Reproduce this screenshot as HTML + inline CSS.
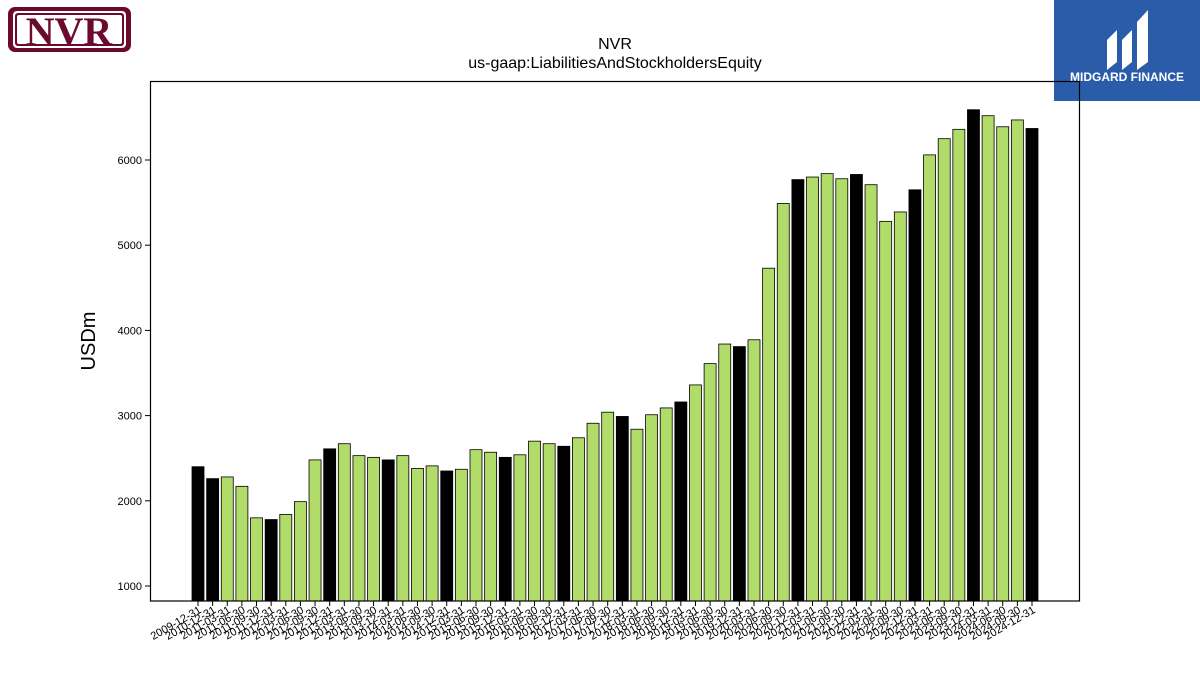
<!DOCTYPE html>
<html><head><meta charset="utf-8"><style>
body{margin:0;background:#fff;font-family:"Liberation Sans","DejaVu Sans",sans-serif}
#wrap{position:relative;width:1200px;height:675px;overflow:hidden}
</style></head><body><div id="wrap">
<svg id="chart" width="1200" height="675" xmlns="http://www.w3.org/2000/svg">
<g>
<rect x="8" y="7" width="123" height="45" rx="7" fill="#6b0a2e"/>
<rect x="13" y="11" width="113" height="37" rx="4" fill="#fff"/>
<rect x="15" y="13" width="109" height="33" rx="3" fill="#6b0a2e"/>
<rect x="17" y="15" width="105" height="29" rx="2" fill="#fff"/>
<text x="69" y="45" text-anchor="middle" font-family="Liberation Serif,serif" font-weight="bold" font-size="40" fill="#6b0a2e">NVR</text>
</g>
<g>
<rect x="1054" y="0" width="146" height="101" fill="#2a5caa"/>
<path d="M1107 70 L1107 40 L1117 30 L1117 62 Z M1122 70 L1122 40 L1132 30 L1132 62 Z M1137 70 L1137 22 L1148 10 L1148 62 Z" fill="#fff"/>
<text x="1127" y="81" text-anchor="middle" font-weight="bold" font-size="12" fill="#fff">MIDGARD FINANCE</text>
</g>
<text x="615" y="49" text-anchor="middle" font-size="16">NVR</text>
<text x="615" y="68" text-anchor="middle" font-size="16">us-gaap:LiabilitiesAndStockholdersEquity</text>
<text transform="translate(95,341) rotate(-90)" text-anchor="middle" font-size="20">USDm</text>
<g id="bars"></g><g id="yt"></g><g id="xt"></g>
<rect x="150.5" y="81.5" width="929" height="519.5" fill="none" stroke="#000" stroke-width="1.2"/>
</svg>
<script>
const categories=["2009-12-31","2010-12-31"];
for(let y=2011;y<=2024;y++){["03-31","06-30","09-30","12-31"].forEach(q=>categories.push(y+"-"+q));}
const values=[2400,2260,2280,2170,1800,1780,1840,1990,2480,2610,2670,2530,2510,2480,2530,2380,2410,2350,2370,2600,2570,2510,2540,2700,2670,2640,2740,2910,3040,2990,2840,3010,3090,3160,3360,3610,3840,3810,3890,4730,5490,5770,5800,5840,5780,5830,5710,5280,5390,5650,6060,6250,6360,6590,6520,6390,6470,6370];
const yTicks=[1000,2000,3000,4000,5000,6000];
const NS="http://www.w3.org/2000/svg";
const y0=824, pxPer=0.0852, yBase=601;
function yS(v){return 586-(v-1000)*pxPer;}
function xS(i){return 198+i*(1032-198)/(categories.length-1);}
const bars=document.getElementById('bars'),yt=document.getElementById('yt'),xt=document.getElementById('xt');
values.forEach((v,i)=>{
 const r=document.createElementNS(NS,'rect');
 
 
 const top=yS(v);
 r.setAttribute('x',xS(i)-6);r.setAttribute('y',top);r.setAttribute('width',12);r.setAttribute('height',yBase-top);
 r.setAttribute('fill',categories[i].endsWith('12-31')?'#000':'#b2dc6a');
 r.setAttribute('stroke','#000');r.setAttribute('stroke-width','0.8');
 bars.appendChild(r);
 const t=document.createElementNS(NS,'line');
 
 
 t.setAttribute('x1',xS(i));t.setAttribute('x2',xS(i));t.setAttribute('y1',601);t.setAttribute('y2',606);t.setAttribute('stroke','#000');
 xt.appendChild(t);
 const l=document.createElementNS(NS,'text');
 
 
 l.setAttribute('transform','translate('+(xS(i)+4)+',612) rotate(-30)');
 l.setAttribute('text-anchor','end');l.setAttribute('font-size','11');
 l.textContent=categories[i];xt.appendChild(l);
});
yTicks.forEach(v=>{
 const t=document.createElementNS(NS,'line');
 
 
 t.setAttribute('x1',145);t.setAttribute('x2',150);t.setAttribute('y1',yS(v));t.setAttribute('y2',yS(v));t.setAttribute('stroke','#000');
 yt.appendChild(t);
 const l=document.createElementNS(NS,'text');
 
 
 l.setAttribute('x',142);l.setAttribute('y',yS(v)+4);l.setAttribute('text-anchor','end');l.setAttribute('font-size','11');
 l.textContent=v;yt.appendChild(l);
});
</script></div></body></html>
